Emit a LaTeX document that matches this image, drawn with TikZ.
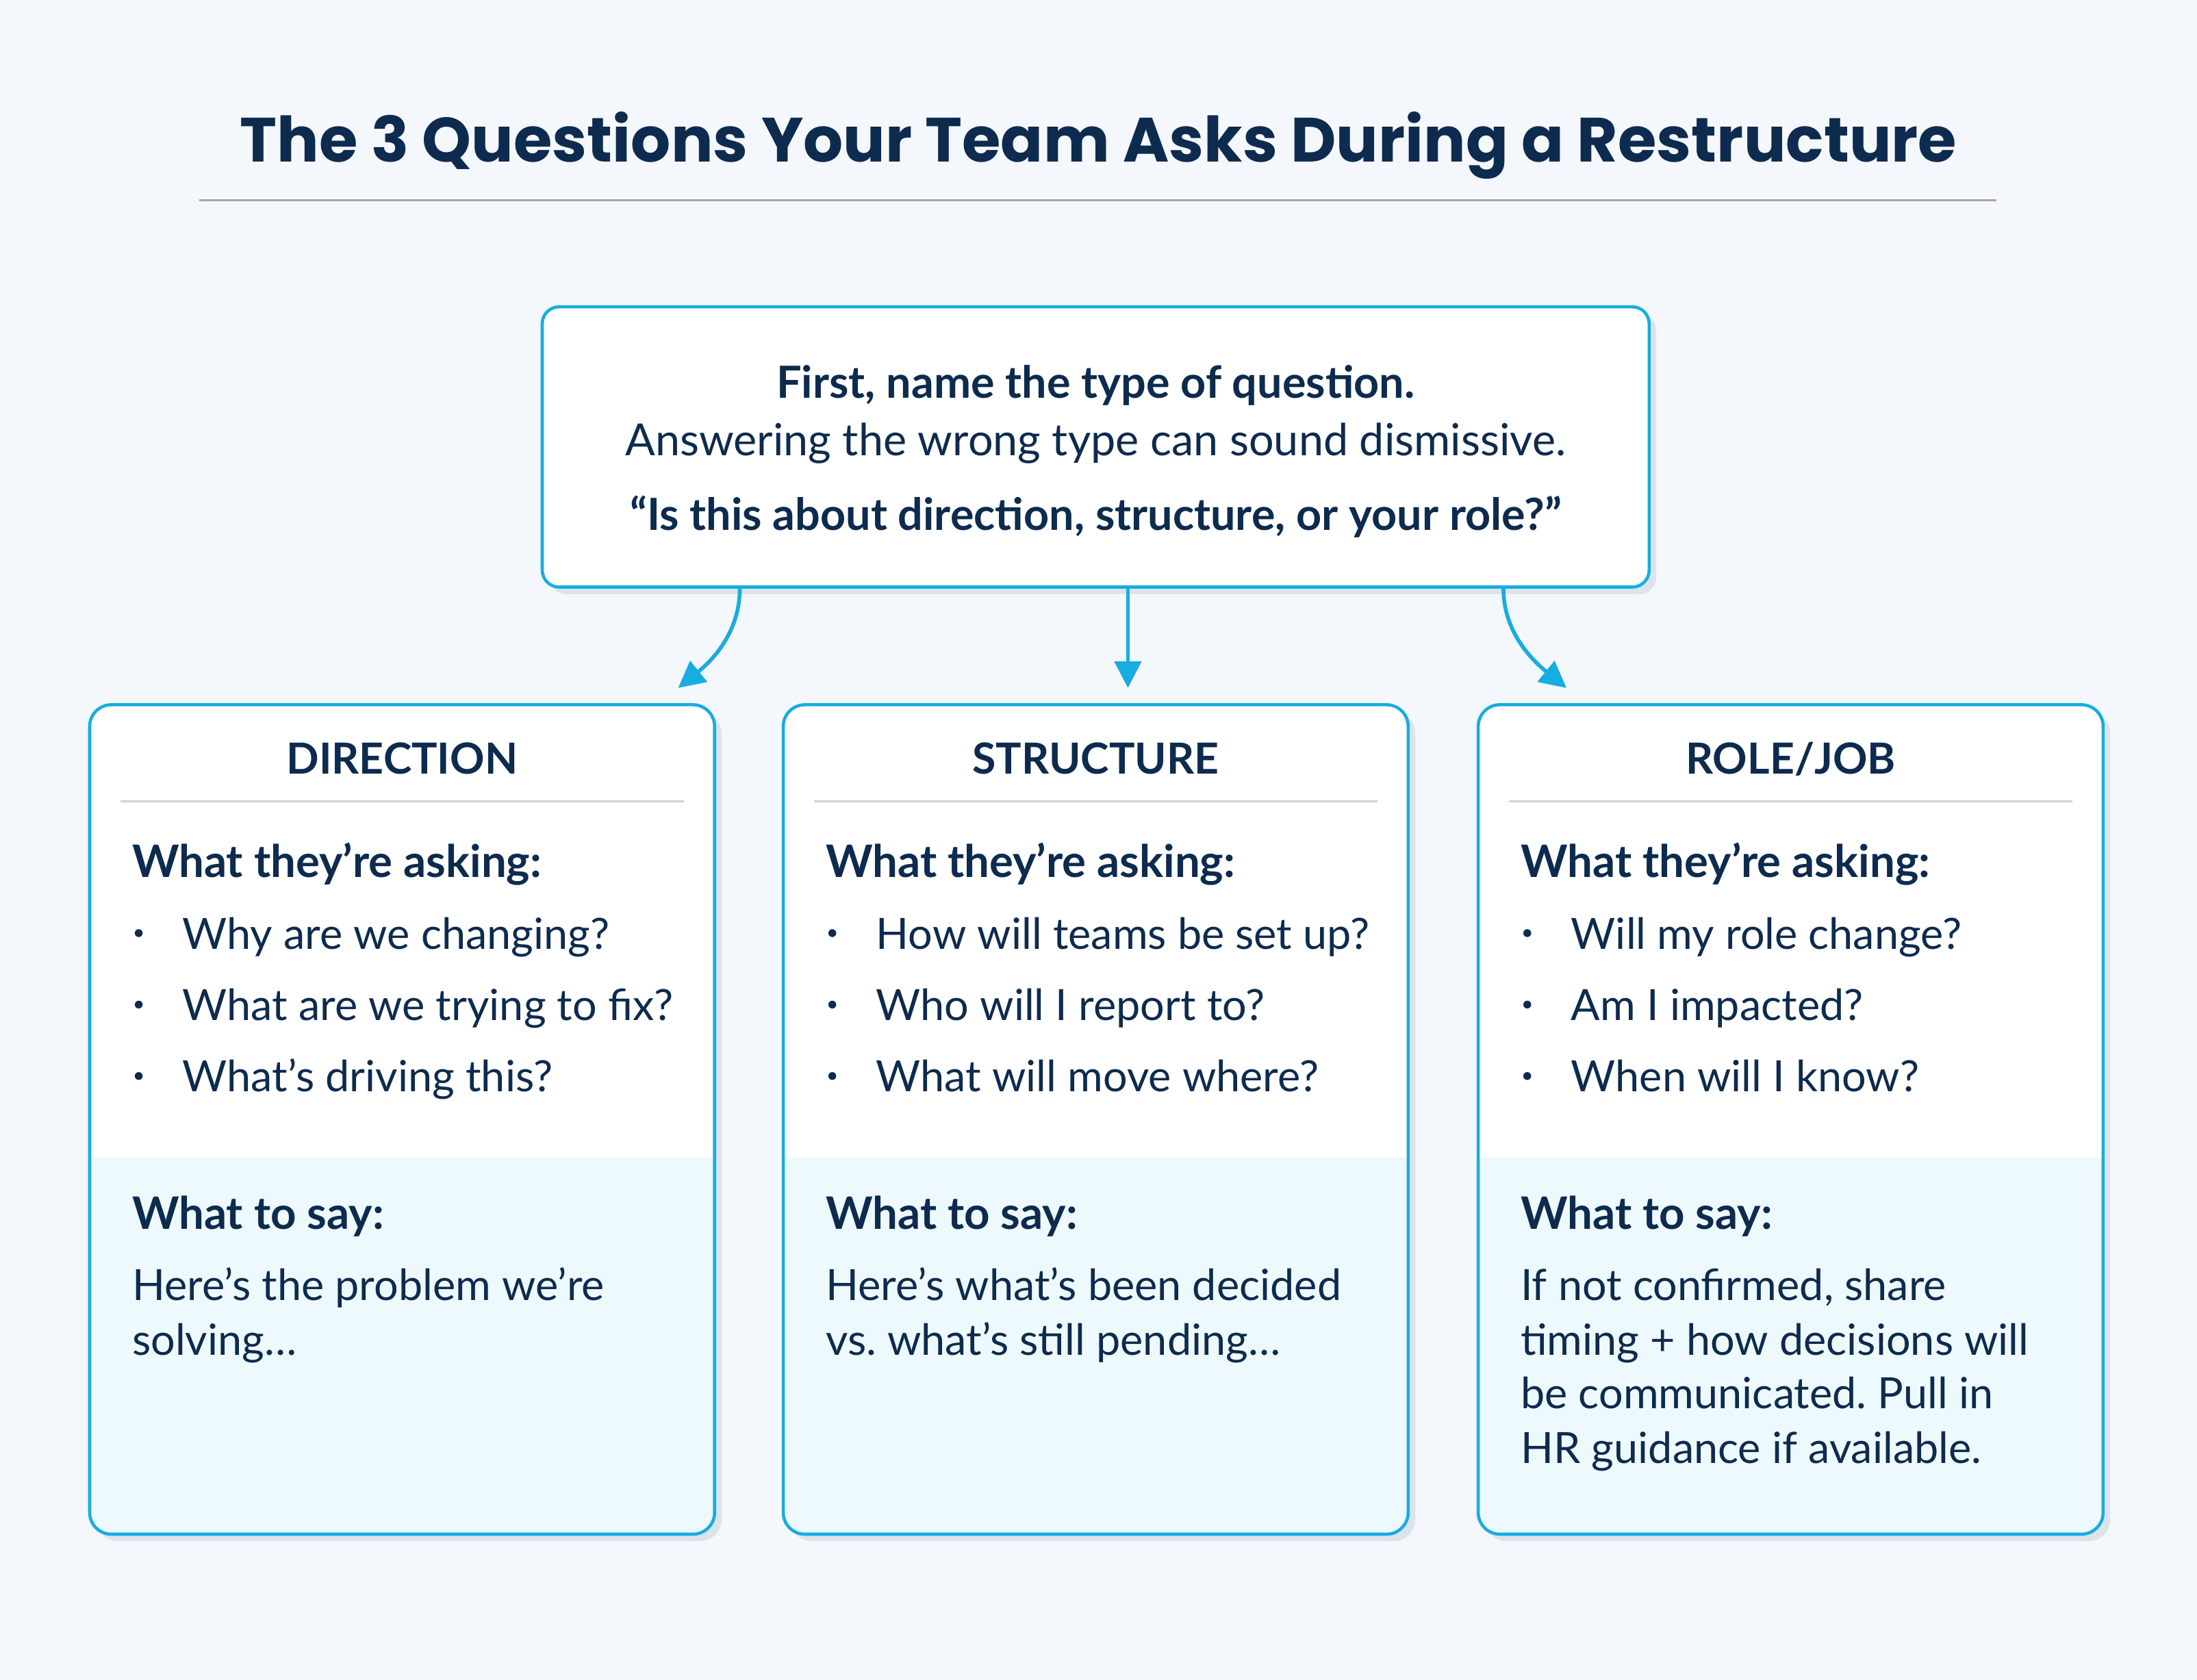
\documentclass[tikz,border=0pt]{standalone}
\usepackage{fontspec}
\setmainfont{Lato}
\newfontfamily\titlefont{Poppins}
\usetikzlibrary{arrows.meta}
\definecolor{navy}{HTML}{0D2B4E}
\definecolor{cyanb}{HTML}{17ADE0}
\definecolor{lightc}{HTML}{EEF9FD}
\definecolor{bgc}{HTML}{F4F7FB}
\definecolor{shad}{HTML}{DDE3EA}
\frenchspacing
\begin{document}
\begin{tikzpicture}[x=0.020466cm,y=-0.020466cm,
  txt/.style={text=navy,inner sep=0pt,anchor=west,text height=0.72em,text depth=0.22em,font=\fontsize{17.9}{21}\selectfont},
  bold/.style={txt,font=\fontsize{18.6}{21}\selectfont\bfseries},
  hd/.style={text=navy,inner sep=0pt,text height=0.72em,text depth=0.22em,font=\fontsize{17.8}{21}\selectfont\bfseries},
  arr/.style={draw=cyanb,line width=1.6pt,-{Triangle[length=11pt,width=11pt]}}]
\useasboundingbox (0,0) rectangle (1568,1199);
\fill[bgc] (0,0) rectangle (1568,1199);
\node[text=navy,inner sep=0pt,font=\titlefont\fontsize{26}{31}\selectfont\bfseries] (title) at (784,104) {The 3 Questions Your Team Asks During a Restructure};
\draw[gray!70,line width=0.8pt] (142,143) -- (1425,143);
% top box
\fill[shad,rounded corners=7] (392,224) rectangle (1182,424);
\node[draw=cyanb,line width=1.3pt,fill=white,rounded corners=7,minimum width=790*0.020466cm,minimum height=200*0.020466cm,inner sep=0pt] (top) at (782,319) {};
\node[hd,font=\fontsize{18.4}{21}\selectfont\bfseries] (t1) at (782,280) {First, name the type of question.};
\node[hd,font=\fontsize{18.4}{21}\selectfont] (t2) at (782,321) {Answering the wrong type can sound dismissive.};
\node[hd,font=\fontsize{18.4}{21}\selectfont\bfseries] (t3) at (782,374) {“Is this about direction, structure, or your role?”};
\coordinate (a1) at (528,420); \coordinate (b1) at (484,491);
\coordinate (a2) at (805,420); \coordinate (b2) at (805,491);
\coordinate (a3) at (1073,420); \coordinate (b3) at (1118,491);
\draw[arr] (a1) .. controls (528,450) and (510,470) .. (b1);
\draw[arr] (a2) -- (b2);
\draw[arr] (a3) .. controls (1073,450) and (1092,470) .. (b3);
% columns
\foreach \x/\nm/\ti/\qa/\qb/\qc in {64/d/DIRECTION/Why are we changing?/What are we trying to fix?/What’s driving this?,
  559/s/STRUCTURE/How will teams be set up?/Who will I report to?/What will move where?,
  1055/r/ROLE\slash JOB/Will my role change?/Am I impacted?/When will I know?}{
  \fill[shad,rounded corners=9] (\x+5,508) rectangle (\x+451,1100);
  \begin{scope}
    \clip[rounded corners=9] (\x,503) rectangle (\x+446,1095);
    \fill[white] (\x,503) rectangle (\x+446,826);
    \fill[lightc] (\x,826) rectangle (\x+446,1095);
  \end{scope}
  \draw[cyanb,line width=1.3pt,rounded corners=9] (\x,503) rectangle (\x+446,1095);
  \node[hd] (\nm h) at (\x+223,548) {\ti};
  \draw[gray!35,line width=0.8pt] (\x+22,572) -- (\x+424,572);
  \node[bold] (\nm a) at (\x+30,622) {What they’re asking:};
  \foreach \yy/\q [count=\i] in {673/\qa,724/\qb,775/\qc}{
    \fill[navy] (\x+35,\yy-7) circle (2.8);
    \node[txt] (\nm q\i) at (\x+66,\yy) {\q};
  }
  \node[bold] (\nm w) at (\x+30,873) {What to say:};
}
\node[txt] (ds1) at (94,924) {Here’s the problem we’re};
\node[txt] (ds2) at (94,963) {solving…};
\node[txt] (ss1) at (589,924) {Here’s what’s been decided};
\node[txt] (ss2) at (589,963) {vs. what’s still pending…};
\node[txt] (rs1) at (1085,924) {If not confirmed, share};
\node[txt] (rs2) at (1085,963) {timing + how decisions will};
\node[txt] (rs3) at (1085,1001) {be communicated. Pull in};
\node[txt] (rs4) at (1085,1040) {HR guidance if available.};
\end{tikzpicture}
\end{document}
